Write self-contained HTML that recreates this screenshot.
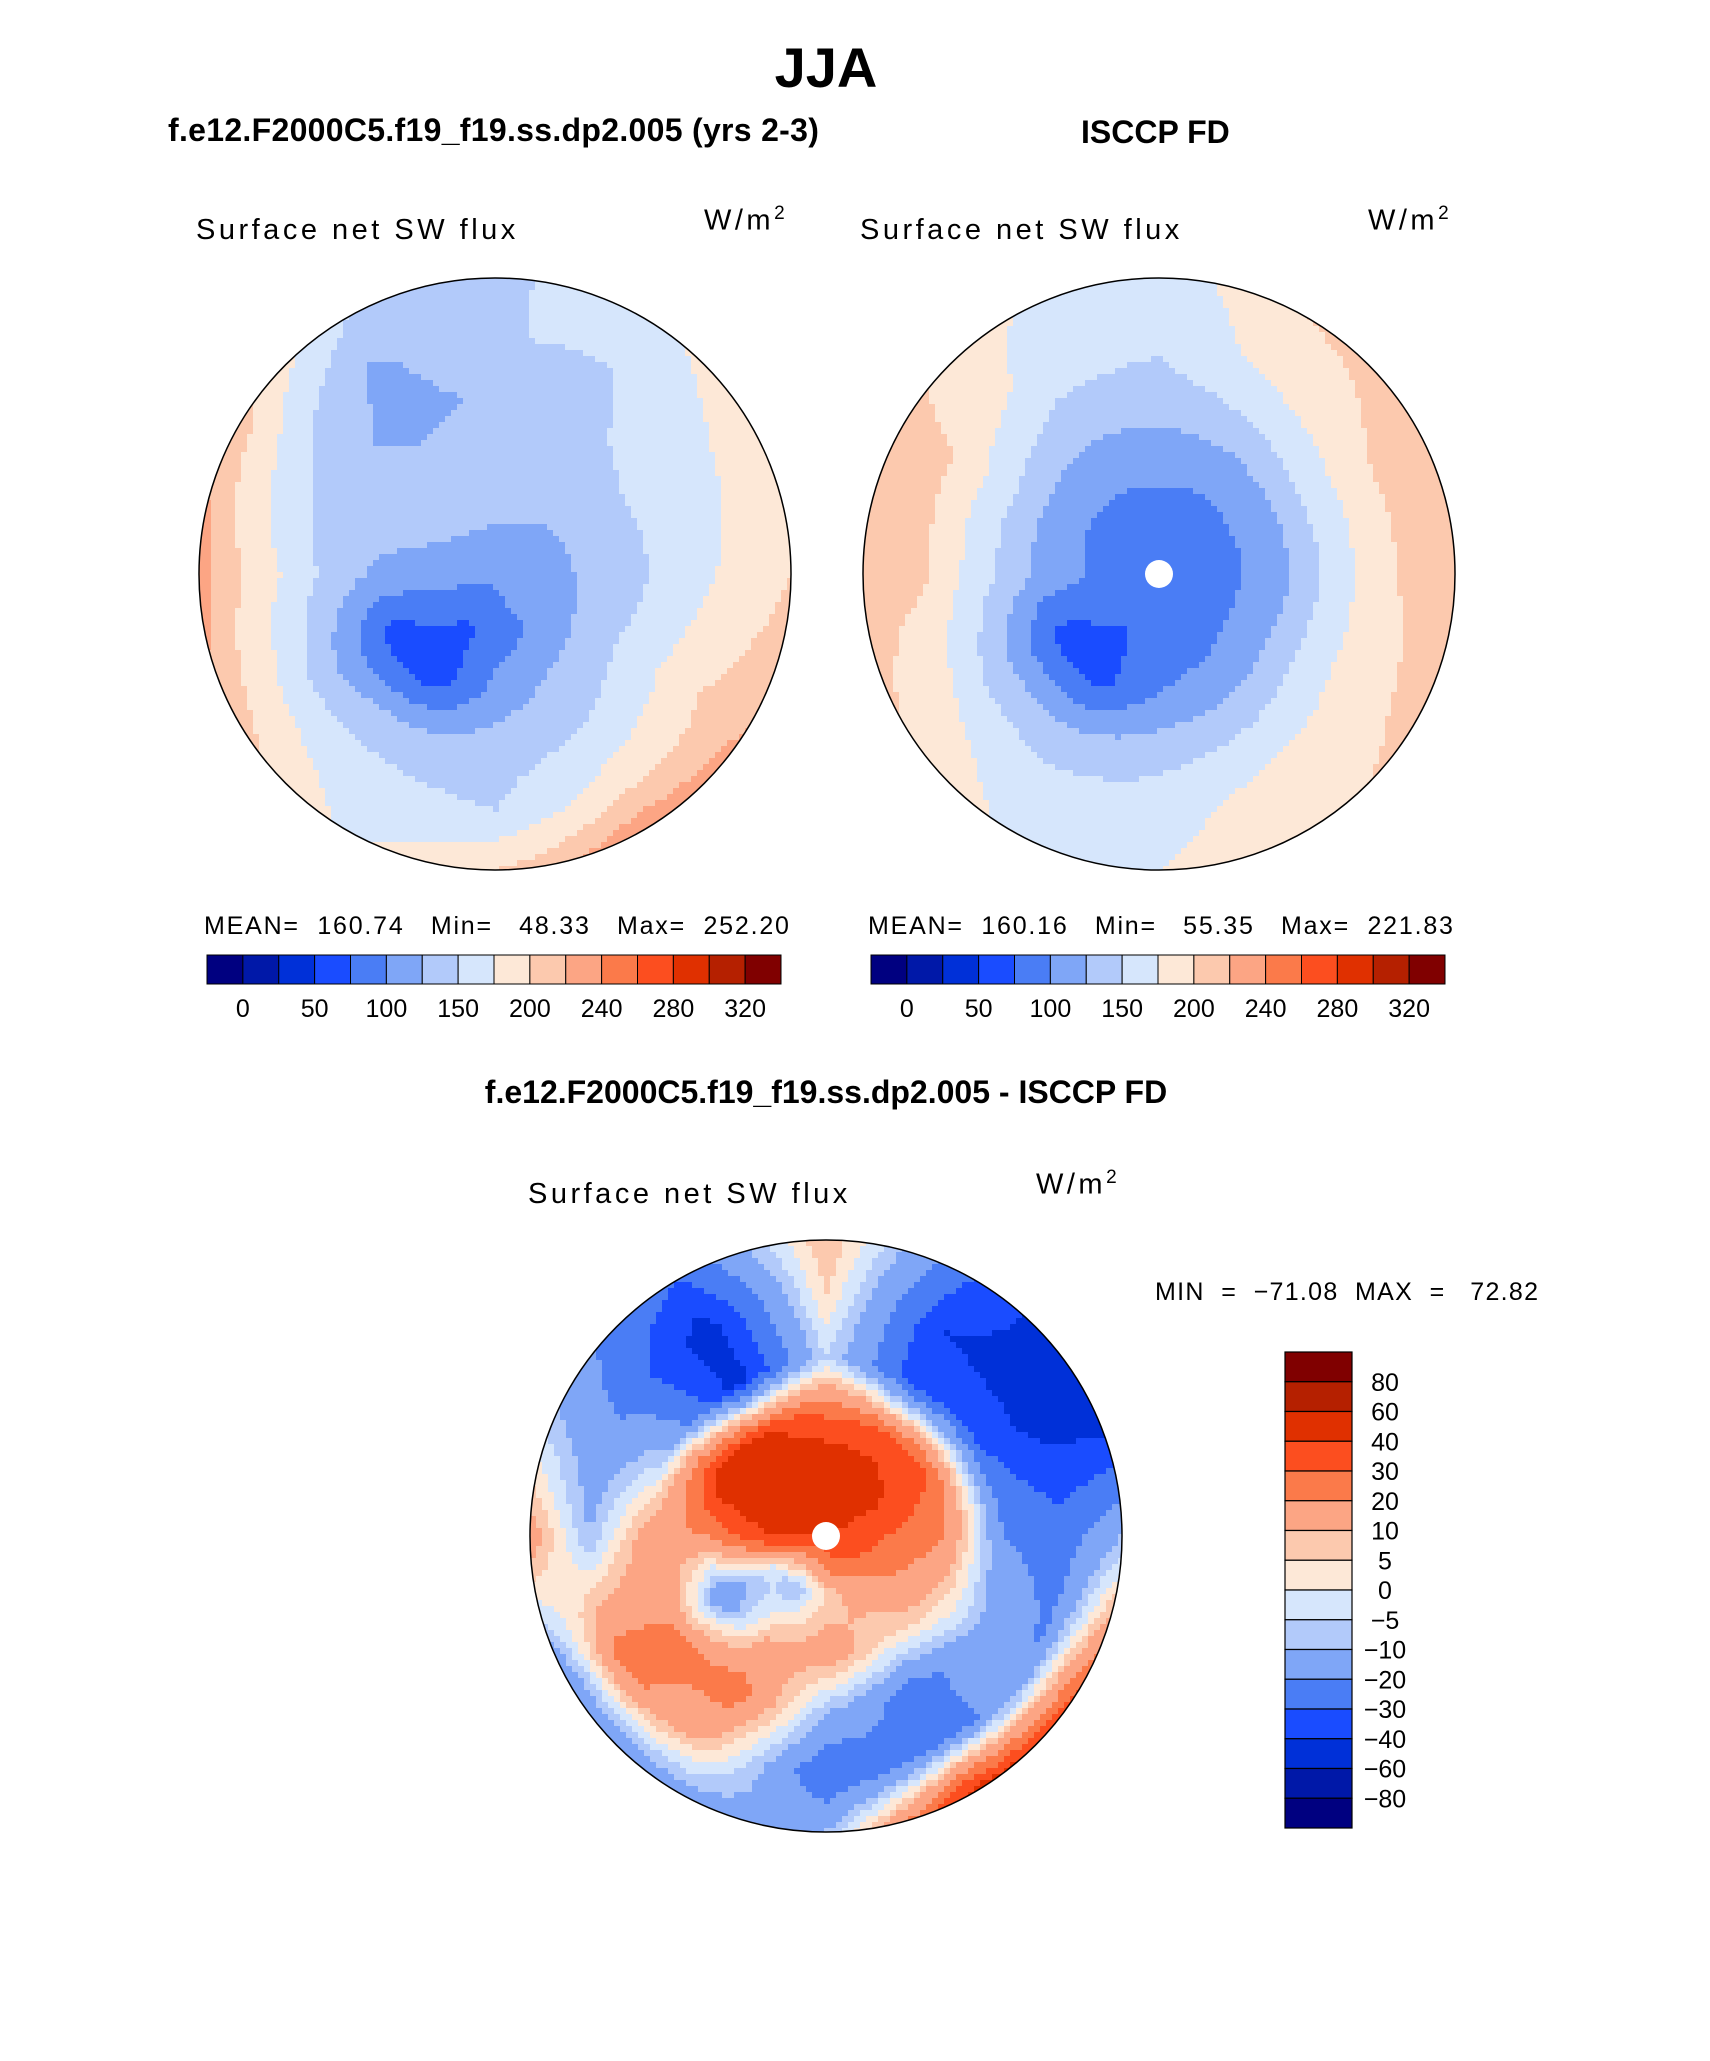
<!DOCTYPE html>
<html><head><meta charset="utf-8">
<style>
html,body{margin:0;padding:0;background:#fff;}
#root{position:relative;width:1710px;height:2061px;overflow:hidden;font-family:"Liberation Sans",sans-serif;}
.t{position:absolute;white-space:nowrap;color:#000;z-index:2;}
.b{font-weight:bold;}
.lab{font-size:29px;letter-spacing:3.5px;}
#svg{z-index:1;}
</style></head>
<body>
<div id="root">
<svg id="svg" width="1710" height="2061" style="position:absolute;left:0;top:0"></svg>
<div class="t b" style="left:0;width:1652px;text-align:center;top:35px;font-size:56px;">JJA</div>
<div class="t b" style="left:168px;top:112px;font-size:32px;letter-spacing:0.3px;">f.e12.F2000C5.f19_f19.ss.dp2.005 (yrs 2-3)</div>
<div class="t b" style="left:1081px;top:114px;font-size:32px;">ISCCP FD</div>
<div class="t b" style="left:0;width:1652px;text-align:center;top:1074px;font-size:32px;">f.e12.F2000C5.f19_f19.ss.dp2.005 - ISCCP FD</div>

<div class="t lab" style="left:196px;top:214px;">Surface net SW flux</div>
<div class="t lab" style="left:704px;top:203px;">W/m<sup style="font-size:19px">2</sup></div>
<div class="t lab" style="left:860px;top:214px;">Surface net SW flux</div>
<div class="t lab" style="left:1368px;top:203px;">W/m<sup style="font-size:19px">2</sup></div>
<div class="t lab" style="left:528px;top:1178px;">Surface net SW flux</div>
<div class="t lab" style="left:1036px;top:1167px;">W/m<sup style="font-size:19px">2</sup></div>

<div class="t" style="left:204px;top:912px;font-size:25px;letter-spacing:1.8px;">MEAN=&nbsp; 160.74 &nbsp;&nbsp;Min=&nbsp;&nbsp; 48.33 &nbsp;&nbsp;Max=&nbsp; 252.20</div>
<div class="t" style="left:868px;top:912px;font-size:25px;letter-spacing:1.8px;">MEAN=&nbsp; 160.16 &nbsp;&nbsp;Min=&nbsp;&nbsp; 55.35 &nbsp;&nbsp;Max=&nbsp; 221.83</div>
<div class="t" style="left:1155px;top:1278px;font-size:25px;letter-spacing:1.3px;">MIN&nbsp; =&nbsp; −71.08&nbsp; MAX&nbsp; =&nbsp;&nbsp; 72.82</div>
</div>
<script>
// ---- data ----
const absLevels = [0,25,50,75,100,125,150,175,200,220,240,260,280,300,320];
const absTickLabels = ["0","50","100","150","200","240","280","320"];
const diffLevels = [-80,-60,-40,-30,-20,-10,-5,0,5,10,20,30,40,60,80];
const diffTickLabels = ["80","60","40","30","20","10","5","0","−5","−10","−20","−30","−40","−60","−80"];
const colors = ["#000080","#0018a8","#0030d8","#1a4cff","#4a7df5","#7fa6f7","#b2cafa","#d6e6fc","#fde8d7","#fcc9ae","#fca584","#fb7a4a","#fc4e1f","#e03000","#b52000","#800000"];
const radiusNodes = [0,0.2,0.4,0.6,0.8,1.0];
// angle nodes every 30 deg, 0 = east, clockwise on screen
const modelField = [
 [105,105,105,105,105,105,105,105,105,105,105,105],
 [120,110,100,85,70,90,110,125,130,130,125,120],
 [135,140,130,110,60,65,120,140,135,135,140,140],
 [160,170,150,140,130,120,150,135,115,130,145,160],
 [180,200,185,150,160,170,190,165,120,150,150,170],
 [200,220,235,200,170,210,230,210,150,145,165,195]];
const obsField = [
 [80,80,80,80,80,80,80,80,80,80,80,80],
 [90,90,85,85,75,80,95,90,90,90,90,90],
 [115,120,110,100,65,70,120,115,110,110,110,115],
 [165,165,150,140,125,130,160,160,140,140,150,165],
 [200,195,185,165,160,175,205,200,165,155,185,200],
 [210,205,195,175,170,200,215,210,175,160,200,210]];
const diffField = [
 [40,40,40,40,40,40,40,40,40,40,40,40],
 [30,25,15,5,-10,0,40,50,55,55,50,40],
 [20,10,5,15,10,-20,20,50,40,30,30,30],
 [-20,-10,-25,-10,25,20,15,-10,-45,-5,-35,-30],
 [-25,-20,-20,-30,10,25,-10,-20,-45,5,-40,-45],
 [-10,30,45,-10,-15,-20,15,-15,-30,10,-30,-55]];

const NS="http://www.w3.org/2000/svg";
const svg=document.getElementById('svg');
const defs=document.createElementNS(NS,'defs');svg.appendChild(defs);
function mk(tag,attrs,parent){const e=document.createElementNS(NS,tag);for(const k in attrs)e.setAttribute(k,attrs[k]);(parent||svg).appendChild(e);return e;}
function colorFor(v,levels){let i=0;while(i<levels.length&&v>=levels[i])i++;return colors[i];}
function sample(field,rf,ang){
  let ri=0;while(ri<radiusNodes.length-2&&rf>radiusNodes[ri+1])ri++;
  const rt=Math.min(1,Math.max(0,(rf-radiusNodes[ri])/(radiusNodes[ri+1]-radiusNodes[ri])));
  const n=field[0].length, step=360/n;
  const a=ang/step, a0=Math.floor(a)%n, a1=(a0+1)%n, at=a-Math.floor(a);
  const v0=field[ri][a0]*(1-at)+field[ri][a1]*at;
  const v1=field[ri+1][a0]*(1-at)+field[ri+1][a1]*at;
  return v0*(1-rt)+v1*rt;
}
function drawMap(name,id,cx,cy,R,field,levels,hole){
  const cp=mk('clipPath',{id:id},defs);mk('circle',{cx:cx,cy:cy,r:R},cp);
  const g=mk('g',{'clip-path':'url(#'+id+')'});
  
  
  const cs=6;
  for(let y=cy-R;y<cy+R;y+=cs){for(let x=cx-R;x<cx+R;x+=cs){
    const dx=x+cs/2-cx,dy=y+cs/2-cy,r=Math.hypot(dx,dy);
    if(r>R+cs)continue;
    let ang=Math.atan2(dy,dx)*180/Math.PI;if(ang<0)ang+=360;
    const v=sample(field,Math.min(1,r/R),ang);
    const c=mk('rect',{x:x,y:y,width:cs+0.5,height:cs+0.5,fill:colorFor(v,levels)},g);
    
    
  }}
  if(hole){const h=mk('circle',{cx:cx,cy:cy,r:14,fill:'#fff'});
    
    }
  const b=mk('circle',{cx:cx,cy:cy,r:R,fill:'none',stroke:'#000','stroke-width':1.5});
  
  
}
drawMap('model-map','cpm',495,574,296,modelField,absLevels,false);
drawMap('obs-map','cpo',1159,574,296,obsField,absLevels,true);
drawMap('diff-map','cpd',826,1536,296,diffField,diffLevels,true);

function hbar(name,x0,y0,w,h){
  const bw=w/colors.length;
  colors.forEach((c,i)=>{
    const r=mk('rect',{x:x0+i*bw,y:y0,width:bw,height:h,fill:c,stroke:'#000','stroke-width':1});
    
    
  });
  absTickLabels.forEach((t,k)=>{
    const i=1+2*k;
    const tx=mk('text',{x:x0+i*bw,y:y0+h+33,'text-anchor':'middle','font-size':25,'font-family':'Liberation Sans, sans-serif'});
    tx.textContent=t;
    
    
  });
}
hbar('left-colorbar',207,955,574,29);
hbar('right-colorbar',871,955,574,29);
(function(){
  const x0=1285,y0=1352,w=67,h=476,bh=h/colors.length;
  colors.slice().reverse().forEach((c,i)=>{
    const r=mk('rect',{x:x0,y:y0+i*bh,width:w,height:bh,fill:c,stroke:'#000','stroke-width':1.2});
    
    
  });
  diffTickLabels.forEach((t,i)=>{
    const tx=mk('text',{x:1385,y:y0+(i+1)*bh+9,'text-anchor':'middle','font-size':25,'font-family':'Liberation Sans, sans-serif'});
    tx.textContent=t;
    
    
  });
})();
</script>
</body></html>
